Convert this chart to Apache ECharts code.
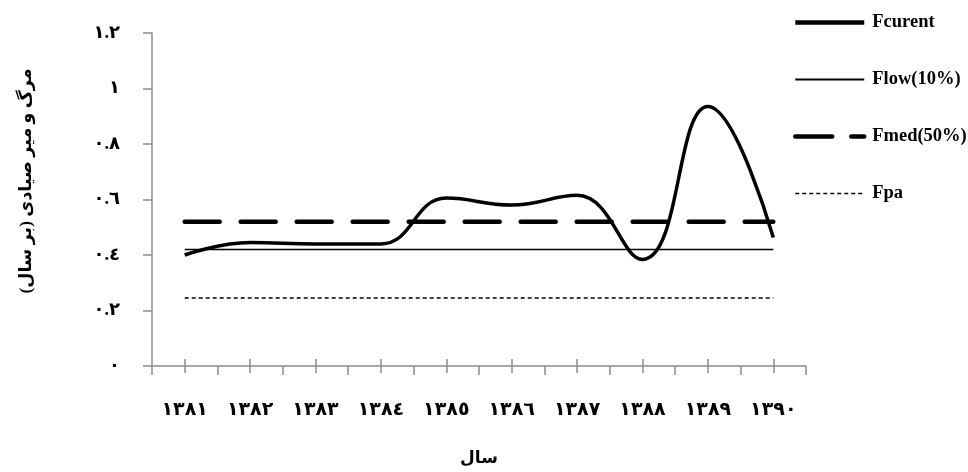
<!DOCTYPE html>
<html>
<head>
<meta charset="utf-8">
<script src="https://cdn.jsdelivr.net/npm/echarts@6/dist/echarts.min.js"></script>
<style>html,body{margin:0;padding:0;background:#fff;}#c{width:968px;height:472px;}</style>
</head>
<body>
<div id="c"></div>
<script>
var years = ['١٣٨١','١٣٨٢','١٣٨٣','١٣٨٤','١٣٨٥','١٣٨٦','١٣٨٧','١٣٨٨','١٣٨٩','١٣٩٠'];
var fCurrent = [0.40, 0.445, 0.44, 0.44, 0.605, 0.58, 0.615, 0.384, 0.935, 0.463];
var fLow = [0.42, 0.42, 0.42, 0.42, 0.42, 0.42, 0.42, 0.42, 0.42, 0.42];
var fMed = [0.52, 0.52, 0.52, 0.52, 0.52, 0.52, 0.52, 0.52, 0.52, 0.52];
var fPa = [0.245, 0.245, 0.245, 0.245, 0.245, 0.245, 0.245, 0.245, 0.245, 0.245];
var yTickLabels = ['٠','٠.٢','٠.٤','٠.٦','٠.٨','١','١.٢'];

var FONT = '"Liberation Serif", "DejaVu Serif", "DejaVu Sans", serif';
var AXIS_COLOR = '#8c8c8c';

var chart = echarts.init(document.getElementById('c'));
chart.setOption({
  animation: false,
  backgroundColor: '#fff',
  grid: { left: 152, right: 162, top: 33, bottom: 102, containLabel: false },
  legend: {
    orient: 'vertical',
    left: 793,
    top: 13,
    padding: 0,
    itemWidth: 69,
    itemHeight: 14,
    itemGap: 38,
    itemStyle: { opacity: 0 },
    textStyle: { fontFamily: FONT, fontWeight: 'bold', fontSize: 18.5, color: '#000', padding: [0, 0, 0, 3] },
    data: [
      { name: 'Fcurent', lineStyle: { width: 4.5, color: '#000' } },
      { name: 'Flow(10%)', lineStyle: { width: 1.8, color: '#000' } },
      { name: 'Fmed(50%)', lineStyle: { width: 4.5, color: '#000', type: [37, 19], cap: 'round' } },
      { name: 'Fpa', lineStyle: { width: 1.5, color: '#000', type: [4, 3] } }
    ]
  },
  xAxis: [{
    type: 'category',
    data: years,
    position: 'bottom',
    boundaryGap: true,
    axisLine: { show: true, lineStyle: { color: AXIS_COLOR, width: 1.5 } },
    axisTick: { show: true, length: 9, lineStyle: { color: AXIS_COLOR, width: 1.5 } },
    axisLabel: { margin: 35, fontFamily: FONT, fontWeight: 'bold', fontSize: 19, color: '#000', interval: 0 },
    name: 'سال',
    nameLocation: 'middle',
    nameGap: 84,
    nameTextStyle: { fontFamily: FONT, fontWeight: 'bold', fontSize: 17, color: '#000' },
    splitLine: { show: false }
  }, {
    type: 'category',
    data: years,
    position: 'bottom',
    offset: -7,
    boundaryGap: true,
    axisLine: { show: false },
    axisTick: { show: true, alignWithLabel: true, length: 14, lineStyle: { color: AXIS_COLOR, width: 1.5 } },
    axisLabel: { show: false },
    splitLine: { show: false }
  }],
  yAxis: {
    type: 'value',
    min: 0,
    max: 1.2,
    interval: 0.2,
    axisLine: { show: true, lineStyle: { color: AXIS_COLOR, width: 1.5 } },
    axisTick: { show: true, length: 9, lineStyle: { color: AXIS_COLOR, width: 1.5 } },
    splitLine: { show: false },
    axisLabel: {
      margin: 32,
      fontFamily: FONT, fontWeight: 'bold', fontSize: 18, color: '#000',
      formatter: function (v) { return yTickLabels[Math.round(v / 0.2)]; }
    },
    name: 'مرگ و میر صیادی (بر سال)',
    nameLocation: 'middle',
    nameGap: 117,
    nameTextStyle: { fontFamily: FONT, fontWeight: 'bold', fontSize: 17.5, color: '#000', padding: [0, 0, 0, 37] }
  },
  series: [{
    name: 'Fcurent',
    type: 'line',
    data: fCurrent,
    smooth: 0.45,
    symbol: 'none',
    lineStyle: { color: '#000', width: 3.5 },
    itemStyle: { color: '#000' },
    z: 5
  }, {
    name: 'Flow(10%)',
    type: 'line',
    data: fLow,
    symbol: 'none',
    lineStyle: { color: '#000', width: 1.5 },
    itemStyle: { color: '#000' }
  }, {
    name: 'Fmed(50%)',
    type: 'line',
    data: fMed,
    symbol: 'none',
    lineStyle: { color: '#000', width: 4.5, type: [35, 21], cap: 'round' },
    itemStyle: { color: '#000' }
  }, {
    name: 'Fpa',
    type: 'line',
    data: fPa,
    symbol: 'none',
    lineStyle: { color: '#000', width: 1.5, type: [4, 3] },
    itemStyle: { color: '#000' }
  }]
});
</script>
</body>
</html>
